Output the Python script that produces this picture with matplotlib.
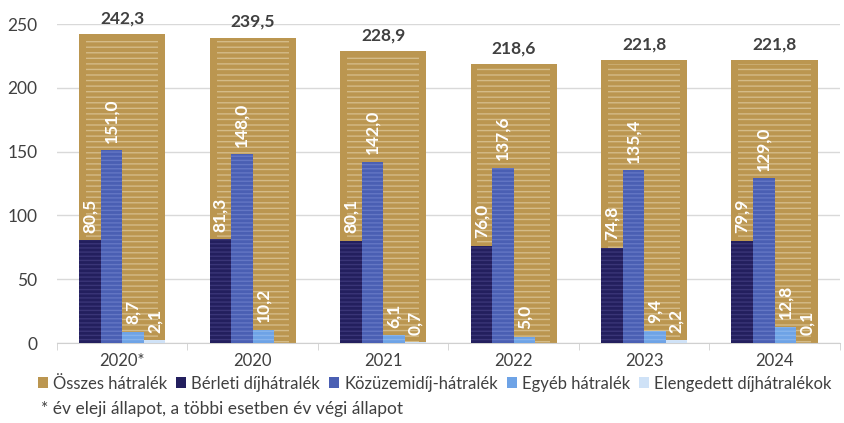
import numpy as np
import matplotlib
matplotlib.use("Agg")
import matplotlib.pyplot as plt
from matplotlib.patches import Patch

plt.rcParams['font.family'] = ['Lato', 'DejaVu Sans']
plt.rcParams['hatch.linewidth'] = 1.0

# adatok
years = ['2020*', '2020', '2021', '2022', '2023', '2024']
osszes = [242.3, 239.5, 228.9, 218.6, 221.8, 221.8]
berleti = [80.5, 81.3, 80.1, 76.0, 74.8, 79.9]
kozuzemi = [151.0, 148.0, 142.0, 137.6, 135.4, 129.0]
egyeb = [8.7, 10.2, 6.1, 5.0, 9.4, 12.8]
elengedett = [2.1, np.nan, 0.7, np.nan, 2.2, 0.1]

series = [
    ('Bérleti díjhátralék', berleti, '#231f5e', '#3a3577'),
    ('Közüzemidíj-hátralék', kozuzemi, '#4a5fb3', '#6477c4'),
    ('Egyéb hátralék', egyeb, '#6ea3e6', '#86b3ec'),
    ('Elengedett díjhátralékok', elengedett, '#cfe2f7', '#dbe9f9'),
]
gold = '#bb9650'
gold_hatch = '#d4bb88'
txt = '#404040'

fig = plt.figure(figsize=(8.44, 4.23), dpi=100)
ax = fig.add_axes([0.0675, 0.189, 0.9275, 0.754])

x = np.arange(len(years))
w_total = 0.66
w = w_total / 4

# összes háttér oszlop
ax.bar(x, osszes, w_total, color=gold, edgecolor='none', lw=0, zorder=2)
ax.bar(x, np.array(osszes) - 3, w_total * 0.84, fill=False, hatch='---',
       edgecolor=gold_hatch, lw=0, zorder=2.5)
for xi, v in zip(x, osszes):
    ax.text(xi, v + 6, f'{v:.1f}'.replace('.', ','), ha='center', va='bottom',
            fontsize=12.5, fontweight='bold', color=txt, clip_on=False)

for i, (name, vals, c, hc) in enumerate(series):
    pos = x - w_total / 2 + w / 2 + i * w
    v = np.array(vals, dtype=float)
    ax.bar(pos, np.nan_to_num(v), w, color=c, edgecolor='none', lw=0, zorder=3)
    ax.bar(pos, np.nan_to_num(v), w, fill=False, hatch='----', edgecolor=hc, lw=0, zorder=3.5)
    for p, val in zip(pos, v):
        if np.isnan(val):
            continue
        ax.text(p, val + 6, f'{val:.1f}'.replace('.', ','), rotation=90, ha='center', va='bottom',
                fontsize=12.5, fontweight='bold', color='white', zorder=5)

ax.set_xlim(-0.5, len(years) - 0.5)
ax.set_ylim(0, 250)
ax.set_yticks(range(0, 251, 50))
ax.set_xticks(x)
ax.set_xticklabels(years)
ax.set_xticks(np.arange(-0.5, len(years), 1), minor=True)
ax.tick_params(axis='x', which='major', length=0, pad=7, labelsize=12, labelcolor=txt)
ax.tick_params(axis='x', which='minor', length=5, color='#d0d0d0')
ax.tick_params(axis='y', length=0, pad=14, labelsize=12.5, labelcolor=txt)
ax.grid(axis='y', color='#d9d9d9', lw=1, zorder=0)
ax.set_axisbelow(True)
for s in ['top', 'right', 'left']:
    ax.spines[s].set_visible(False)
ax.spines['bottom'].set_color('#d0d0d0')

handles = [Patch(facecolor=gold, label='Összes hátralék')]
handles += [Patch(facecolor=c, label=n) for n, _, c, _ in series]
fig.legend(handles=handles, loc='upper left', bbox_to_anchor=(0.045, 0.112), ncol=5,
           frameon=False, fontsize=12, handlelength=0.6, handleheight=0.6,
           handletextpad=0.3, columnspacing=0.55, borderaxespad=0, borderpad=0, labelcolor=txt)

fig.text(0.048, 0.022, '* év eleji állapot, a többi esetben év végi állapot', fontsize=12.5, color=txt)

fig.savefig('out.png', dpi=100)
